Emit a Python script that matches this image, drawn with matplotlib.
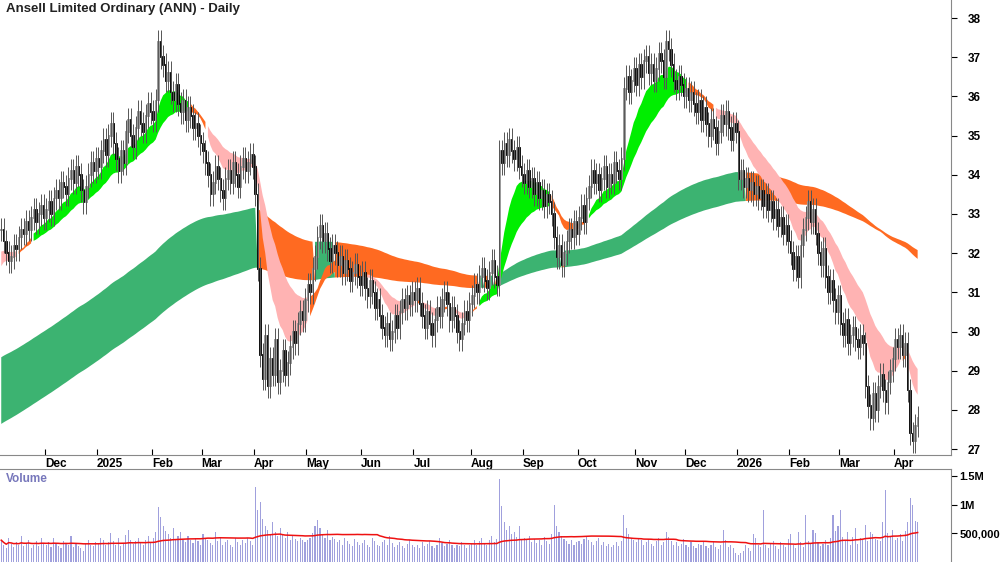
import matplotlib
matplotlib.use("Agg")
import matplotlib.pyplot as plt
import numpy as np
import pandas as pd

plt.rcParams["font.family"] = ["Liberation Sans", "DejaVu Sans"]

TITLE = "Ansell Limited Ordinary (ANN) - Daily"

closes = [
    # Nov 2024
    32.6, 32.3, 32.0, 31.8, 31.9, 32.2, 32.1, 32.4, 32.6, 32.5, 32.8, 32.6, 32.9, 33.1, 32.8, 33.0, 33.2, 32.9,
    # Dec
    33.1, 33.3, 33.0, 33.4, 33.6, 33.4, 33.8, 33.7, 33.5, 33.9, 34.1, 33.8, 34.2, 34.0, 33.6, 33.3, 33.7, 34.0, 34.3, 34.1, 34.4,
    # Jan 2025
    34.2, 34.6, 34.9, 34.5, 35.0, 35.3, 34.8, 34.4, 34.1, 34.6, 34.3, 35.1, 35.4, 35.0, 34.7, 35.2, 35.6, 35.3, 35.1, 35.5, 35.8, 35.6,
    # Feb
    35.4, 35.9, 37.4, 37.0, 36.8, 36.4, 36.6, 36.1, 35.9, 36.3, 35.8, 35.6, 35.9, 35.4, 35.7, 35.5, 35.2, 35.3, 35.0, 34.8,
    # Mar
    34.6, 34.3, 34.0, 33.5, 33.8, 34.2, 33.9, 33.6, 33.4, 33.9, 34.1, 33.8, 34.3, 34.0, 33.7, 34.2, 34.4, 34.1, 34.3, 34.5, 34.2,
    # Apr
    33.5, 31.6, 29.4, 28.8, 29.9, 28.6, 29.3, 28.9, 29.8, 28.7, 29.0, 29.5, 28.9, 29.2, 29.6, 30.0, 29.7, 30.2, 30.5, 30.3, 30.8,
    # May
    31.2, 31.0, 31.6, 31.9, 32.4, 32.7, 32.3, 32.5, 32.1, 31.8, 32.2, 32.0, 31.7, 31.9, 31.5, 31.8, 31.6, 31.3, 31.5, 31.7, 31.4, 31.2,
    # Jun
    31.5, 31.1, 30.9, 31.3, 31.0, 30.6, 30.8, 30.4, 30.1, 29.9, 30.2, 29.8, 30.0, 30.4, 30.1, 30.5, 30.8, 30.6, 30.9, 30.7, 31.0,
    # Jul
    30.8, 31.1, 30.7, 30.4, 30.1, 30.5, 30.2, 29.9, 30.3, 30.6, 30.4, 30.8, 31.0, 30.7, 30.3, 30.6, 30.4, 30.0, 29.8, 30.2, 30.5, 30.3, 30.7,
    # Aug
    30.9, 31.2, 31.0, 31.4, 31.6, 31.3, 31.1, 31.5, 31.8, 31.4, 31.2, 34.6, 34.3, 34.8, 34.5, 34.9, 34.6, 34.4, 34.7, 34.2, 34.0,
    # Sep
    33.8, 34.1, 33.7, 33.9, 33.5, 33.8, 33.4, 33.6, 33.2, 33.5, 33.3, 33.0, 32.4, 31.9, 32.2, 31.7, 32.0, 32.3, 32.6, 32.4, 32.8, 32.5,
    # Oct
    32.9, 33.2, 32.8, 33.4, 33.7, 34.1, 33.8, 34.0, 33.6, 33.9, 34.2, 33.7, 34.0, 33.8, 34.3, 34.1, 33.9, 34.4, 36.2, 36.5, 36.1, 36.4, 36.7,
    # Nov
    36.3, 36.8, 36.5, 36.9, 37.0, 36.6, 36.8, 36.4, 36.7, 37.1, 36.9, 36.5, 37.4, 37.2, 36.8, 36.4, 36.2, 36.5, 36.3, 36.0,
    # Dec
    36.2, 35.9, 36.1, 35.8, 35.6, 35.9, 35.4, 35.7, 35.3, 35.0, 35.4, 35.2, 34.8, 35.1, 35.5, 35.3, 35.6, 35.2, 34.9, 35.3, 35.1,
    # Jan 2026
    33.9, 34.1, 33.7, 33.9, 33.6, 33.8, 33.5, 33.7, 33.4, 33.6, 33.2, 33.5, 33.1, 33.3, 32.9, 33.1, 32.7, 32.9, 32.5, 32.7, 32.3,
    # Feb
    32.0, 31.6, 31.9, 31.4, 32.2, 32.6, 32.9, 33.3, 32.8, 33.1, 32.5, 32.0, 31.7, 32.1, 31.4, 31.0, 31.3, 30.8, 30.5, 30.9,
    # Mar
    30.2, 29.9, 30.3, 29.7, 29.9, 30.1, 29.8, 29.6, 29.9, 29.7, 28.6, 28.1, 27.8, 28.4, 28.0, 28.6, 28.9, 28.5, 28.2, 28.7, 29.0, 29.3,
    # Apr
    29.8, 29.6, 29.9, 29.4, 29.7, 28.5, 27.4, 27.2, 27.6, 27.8,
]

# trading days per month in the lists above (first and last months partial)
days_per_month = [18, 21, 22, 20, 21, 21, 22, 21, 23, 21, 22, 23, 20, 21, 21, 20, 22, 10]
MONTH_LABELS = ["Dec", "2025", "Feb", "Mar", "Apr", "May", "Jun", "Jul", "Aug",
                "Sep", "Oct", "Nov", "Dec", "2026", "Feb", "Mar", "Apr"]

# volume in thousands of shares
volumes_k = [
    380, 300, 250, 420, 310, 260, 340, 290, 450, 270, 320, 380, 240, 300, 360, 280, 410, 330,
    290, 350, 260, 420, 310, 280, 240, 370, 330, 290, 450, 260, 310, 280, 240, 200, 320, 380, 300, 270, 350,
    310, 420, 380, 290, 340, 500, 360, 300, 420, 280, 330, 470, 550, 390, 310, 360, 420, 340, 300, 380, 450, 330,
    420, 520, 950, 780, 620, 540, 480, 420, 600, 380, 450, 520, 390, 340, 460, 380, 330, 420, 360, 300,
    480, 420, 380, 330, 300, 520, 360, 420, 290, 340, 380, 300, 260, 410, 350, 300, 380, 330, 420, 360, 300,
    1300, 900, 1050, 750, 620, 560, 480, 700, 520, 450, 600, 480, 420, 520, 380, 450, 400, 360, 420, 380, 340,
    380, 420, 500, 620, 740, 600, 480, 420, 560, 380, 440, 400, 340, 380, 300, 420, 360, 320, 280, 400, 340, 300,
    330, 380, 300, 260, 420, 360, 300, 270, 340, 380, 300, 460, 330, 260, 300, 350, 280, 240, 320, 380, 300,
    260, 300, 240, 340, 280, 320, 360, 280, 250, 300, 420, 330, 270, 320, 380, 290, 250, 300, 270, 340, 290, 240, 300,
    320, 380, 300, 360, 420, 330, 300, 380, 450, 340, 400, 1450, 980, 700, 560, 620, 480, 520, 440, 620, 380,
    420, 380, 460, 350, 400, 330, 380, 300, 440, 360, 320, 480, 1000, 620, 520, 450, 400, 360, 320, 380, 300, 340,
    360, 320, 400, 450, 380, 340, 300, 360, 420, 300, 340, 280, 320, 260, 300, 340, 280, 360, 820, 600, 480, 420, 380,
    350, 420, 380, 300, 340, 400, 320, 280, 360, 420, 300, 340, 520, 440, 360, 300, 340, 280, 320, 400,
    300, 260, 340, 280, 240, 320, 300, 360, 280, 240, 300, 340, 260, 220, 300, 560, 380, 260, 300, 240, 160,
    120, 160, 200, 300, 240, 200, 480, 420, 300, 260, 900, 300, 240, 320, 360, 280, 220, 340, 300, 260, 400,
    480, 300, 240, 520, 340, 260, 820, 360, 320, 560, 500, 340, 280, 320, 380, 300, 420, 820, 540, 620, 900,
    440, 380, 520, 300, 440, 600, 320, 420, 380, 640, 360, 520, 480, 400, 380, 360, 700, 1250, 500, 460, 560, 380,
    420, 480, 360, 540, 700, 1120, 1000, 720, 700, 680,
]

short_seed = [31.5, 31.6, 31.7, 31.8, 31.9, 32.0]
long_seed = [29.3, 29.0, 28.7, 28.3, 27.9, 27.6]
SHORT_SPANS = [12, 14, 17, 20, 24, 28]
LONG_SPANS = [150, 160, 175, 190, 210, 230]


def ema_seeded(values, span, seed):
    alpha = 2.0 / (span + 1)
    out = np.empty(len(values))
    prev = seed
    for i, v in enumerate(values):
        prev = prev + alpha * (v - prev)
        out[i] = prev
    return out


def ribbon(values, spans, seeds):
    return np.array([ema_seeded(values, s, sd) for s, sd in zip(spans, seeds)])


c = np.array(closes)
n = len(c)
vol = np.array(volumes_k[:n], dtype=float) * 1000
o = np.concatenate([[c[0]], c[:-1]])
hi = np.maximum(o, c) + 0.3
lo = np.minimum(o, c) - 0.3
x = np.arange(n)

sl = ribbon(c, SHORT_SPANS, short_seed)
ll = ribbon(c, LONG_SPANS, long_seed)
s_up = np.all(np.diff(sl, axis=0) <= 0, axis=0)
s_down = np.all(np.diff(sl, axis=0) >= 0, axis=0)
l_up = np.gradient(ll.mean(axis=0)) >= 0

fig = plt.figure(figsize=(10, 5.62), dpi=100)
ax = fig.add_axes([0, 0.1904, 0.951, 0.8096])
axv = fig.add_axes([0, 0, 0.951, 0.1655])

ax.fill_between(x, ll.min(0), ll.max(0), where=l_up, color="#3cb371", lw=0, interpolate=True)
ax.fill_between(x, ll.min(0), ll.max(0), where=~l_up, color="#ff6a21", lw=0, interpolate=True)
ax.fill_between(x, sl.min(0), sl.max(0), where=s_up, color="#00ee00", lw=0)
ax.fill_between(x, sl.min(0), sl.max(0), where=s_down, color="#ffb3b3", lw=0)
ax.fill_between(x, sl.min(0), sl.max(0), where=~s_up & ~s_down, color="#ff6a21", lw=0)

# candlesticks
up = c >= o
ax.vlines(x, lo, hi, color="#555555", lw=0.7)
ax.bar(x[up], (c - o)[up] + 0.02, bottom=o[up], width=0.6, color="white", edgecolor="#888888", lw=0.6)
ax.bar(x[~up], (o - c)[~up] + 0.02, bottom=c[~up], width=0.6, color="black", edgecolor="black", lw=0.6)

XLIM = (-0.5, 381.4)
ax.set_xlim(*XLIM)
ax.set_ylim(26.85, 38.46)
ax.yaxis.tick_right()
ax.set_yticks(range(27, 39))
month_pos = list(np.cumsum(days_per_month)[:-1] - 0.5)
ax.set_xticks(month_pos)
ax.set_xticklabels(MONTH_LABELS, ha="left")
ax.tick_params(axis="x", direction="in", length=4, pad=2, labelsize=8.5)
ax.tick_params(axis="y", direction="out", length=4, pad=8, labelsize=8.5)
for lab in ax.get_xticklabels() + ax.get_yticklabels():
    lab.set_fontweight("bold")
for side in ["top", "left"]:
    ax.spines[side].set_visible(False)
ax.spines["right"].set_color("#888888")
ax.spines["bottom"].set_color("#888888")
ax.text(0.006, 0.993, TITLE, transform=ax.transAxes, ha="left", va="top",
        fontsize=9.5, fontweight="bold", color="#222222")

# volume
axv.bar(x, vol, width=0.45, color="#a0a0dd")
vol_ma = pd.Series(vol).rolling(50, min_periods=1).mean()
axv.plot(x, vol_ma, color="#ee1111", lw=1.1)
axv.set_xlim(*XLIM)
axv.set_ylim(0, 1.62e6)
axv.yaxis.tick_right()
axv.set_yticks([500000, 1000000, 1500000])
axv.set_yticklabels(["500,000", "1M", "1.5M"])
axv.set_xticks([])
axv.tick_params(axis="y", direction="out", length=4, pad=2, labelsize=8)
for lab in axv.get_yticklabels():
    lab.set_fontweight("bold")
for side in ["left", "bottom"]:
    axv.spines[side].set_visible(False)
axv.spines["right"].set_color("#888888")
axv.spines["top"].set_color("#888888")
axv.text(0.006, 0.96, "Volume", transform=axv.transAxes, ha="left", va="top",
         fontsize=8.5, fontweight="bold", color="#7777bb")

fig.savefig("out.png", dpi=100)
